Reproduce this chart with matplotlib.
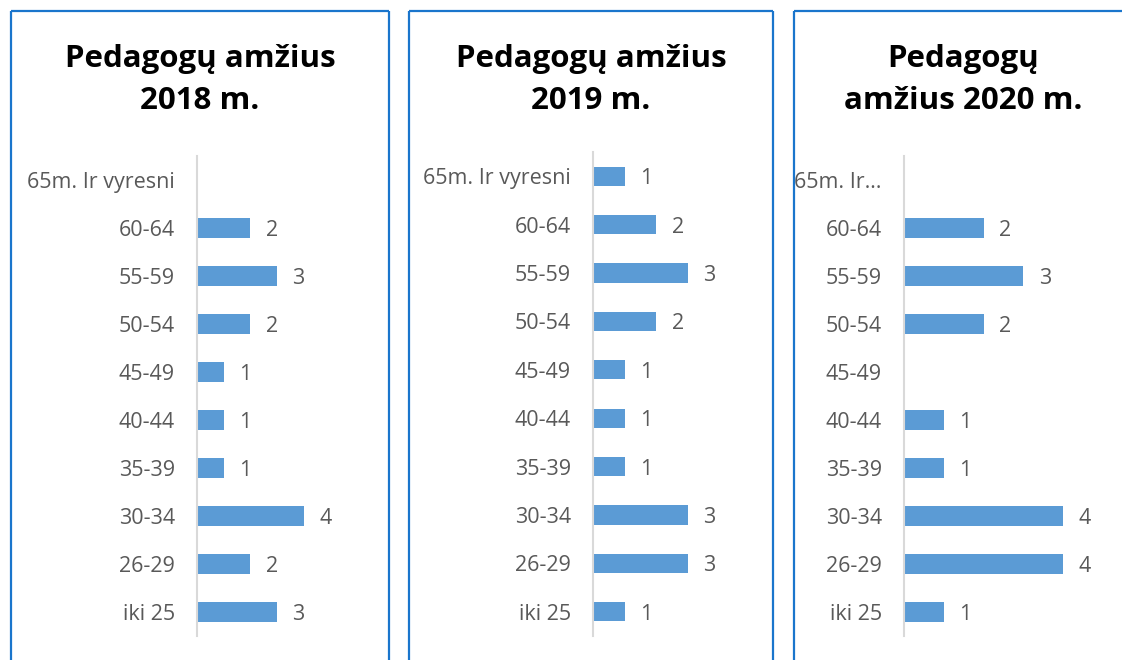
import matplotlib
matplotlib.use("Agg")
import matplotlib.pyplot as plt
from matplotlib.lines import Line2D
import numpy as np

plt.rcParams['font.family'] = ['Open Sans', 'DejaVu Sans']

# age groups, bottom to top
categories = ['iki 25', '26-29', '30-34', '35-39', '40-44',
              '45-49', '50-54', '55-59', '60-64', '65m. Ir vyresni']
categories_2020 = categories[:-1] + ['65m. Ir\u2026']

values_2018 = [3, 2, 4, 1, 1, 1, 2, 3, 2, None]
values_2019 = [1, 3, 3, 1, 1, 1, 2, 3, 2, 1]
values_2020 = [1, 4, 4, 1, 1, None, 2, 3, 2, None]

titles = ['Pedagogų amžius\n2018 m.', 'Pedagogų amžius\n2019 m.', 'Pedagogų\namžius 2020 m.']

W, H = 1122, 660
fig = plt.figure(figsize=(W / 100, H / 100), dpi=100)

BAR = '#5b9bd5'
TXT = '#595959'
BORDER = '#1a75cc'

# panel layouts in pixels: (border left, border right, axis x, px per unit, xmax, axis top, axis bottom)
panels = [
    (11, 389, 197, 26.7, 5, 156, 636),
    (409, 773, 593, 31.7, 4, 152, 636),
    (794, 1132, 904, 39.8, 5, 156, 636),
]
all_values = [values_2018, values_2019, values_2020]
all_cats = [categories, categories, categories_2020]

def px_line(xs, ys):
    fig.add_artist(Line2D([x / W for x in xs], [1 - y / H for y in ys],
                          transform=fig.transFigure, color=BORDER, linewidth=1.6,
                          solid_capstyle='butt'))

for (bl, br, ax0, unit, xmax, top, bot), vals, cats, title in zip(panels, all_values, all_cats, titles):
    # chart border (bottom runs off the picture)
    right = min(br, W + 5)
    px_line([bl, right], [11, 11])
    px_line([bl, bl], [11, H + 5])
    if br < W:
        px_line([br, br], [11, H + 5])
    fig.text((bl + br) / 2 / W, 1 - 80 / H, title, ha='center', va='center',
             fontsize=22.5, fontweight='bold', color='black', linespacing=1.55)

    ax = fig.add_axes([ax0 / W, 1 - bot / H, unit * xmax / W, (bot - top) / H])
    y = np.arange(len(cats))
    v = np.array([np.nan if x is None else x for x in vals], dtype=float)
    ax.barh(y, np.nan_to_num(v), height=0.4, color=BAR)
    for yi, vi in zip(y, vals):
        if vi is not None:
            ax.annotate(str(vi), (vi, yi), xytext=(11, 0), textcoords='offset points',
                        ha='left', va='center_baseline', fontsize=15.5, color=TXT)
    ax.set_xlim(0, xmax)
    ax.set_ylim(-0.5, len(cats) - 0.5)
    ax.set_yticks(y)
    ax.set_yticklabels(cats, fontsize=15.5, color=TXT)
    ax.tick_params(axis='y', length=0, pad=16)
    ax.set_xticks([])
    for s in ['top', 'right', 'bottom']:
        ax.spines[s].set_visible(False)
    ax.spines['left'].set_color('#d9d9d9')
    ax.spines['left'].set_linewidth(1.5)
    ax.patch.set_alpha(0)

fig.savefig('out.png', dpi=100)
